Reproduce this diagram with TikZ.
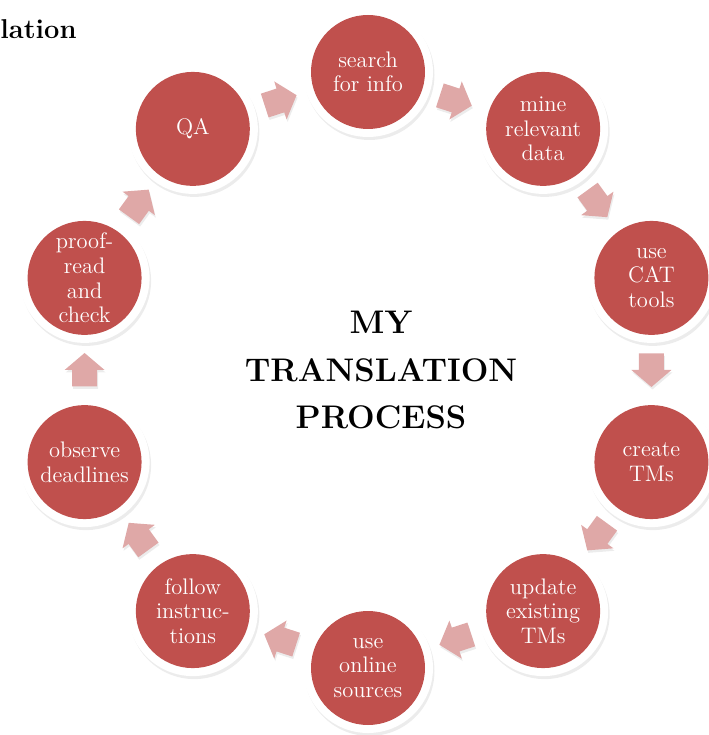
\documentclass[tikz,border=0pt]{standalone}
\usetikzlibrary{calc,shadows}

\definecolor{stagered}{RGB}{192,80,77}
\definecolor{arrowpink}{RGB}{223,168,167}

\tikzset{
  stage/.style={circle, fill=white, minimum size=2.6cm, inner sep=0pt,
    align=center, text=white, font=\fontsize{12.8}{14}\selectfont,
    drop shadow={shadow xshift=0.03cm, shadow yshift=-0.06cm, opacity=0.15},
    path picture={\fill[stagered] (path picture bounding box.center) circle (1.14cm);}},
  cyclearrow/.pic={
    \fill[arrowpink, drop shadow={shadow xshift=0.02cm, shadow yshift=-0.05cm, opacity=0.15}]
      (-0.33,-0.25) -- (0,-0.25) -- (0,-0.40) -- (0.34,0) -- (0,0.40)
      -- (0,0.25) -- (-0.33,0.25) -- cycle;}
}

\begin{document}
\begin{tikzpicture}
    \useasboundingbox (-7.36,-7.30) rectangle (6.80,7.40);

    \node[anchor=base west, inner sep=0pt, font=\fontsize{15.5}{18}\selectfont\bfseries]
      (title) at (-7.36,6.62) {lation};
    \node[align=center, font=\fontsize{18.6}{27.3}\selectfont\bfseries]
      (centre) at (0.26,0) {MY\\TRANSLATION\\PROCESS};

    \node[stage]     (p1)  at (90:5.96)     {search\\for info};
    \node[stage]     (p2)  at (54:5.96)     {mine\\relevant\\data};
    \node[stage]     (p3)  at (18:5.96)     {use\\CAT\\tools};
    \node[stage]     (p4)  at (-18:5.96)    {create\\TMs};
    \node[stage]     (p5)  at (-54:5.96)    {update\\existing\\TMs};
    \node[stage]     (p6)  at (-90:5.96)    {use\\online\\sources};
    \node[stage]     (p7)  at (-126:5.96)   {follow\\instruc-\\tions};
    \node[stage]     (p8)  at (-162:5.96)   {observe\\deadlines};
    \node[stage]     (p9)  at (162:5.96)    {proof-\\read\\and\\check};
    \node[stage]     (p10) at (126:5.96)    {QA};

    \pic[rotate=-18]  at ($(p1)!0.5!(p2)$)   {cyclearrow};
    \pic[rotate=-54]  at ($(p2)!0.5!(p3)$)   {cyclearrow};
    \pic[rotate=-90]  at ($(p3)!0.5!(p4)$)   {cyclearrow};
    \pic[rotate=-126] at ($(p4)!0.5!(p5)$)   {cyclearrow};
    \pic[rotate=-162] at ($(p5)!0.5!(p6)$)   {cyclearrow};
    \pic[rotate=162]  at ($(p6)!0.5!(p7)$)   {cyclearrow};
    \pic[rotate=126]  at ($(p7)!0.5!(p8)$)   {cyclearrow};
    \pic[rotate=90]   at ($(p8)!0.5!(p9)$)   {cyclearrow};
    \pic[rotate=54]   at ($(p9)!0.5!(p10)$)  {cyclearrow};
    \pic[rotate=18]   at ($(p10)!0.5!(p1)$)  {cyclearrow};
\end{tikzpicture}
\end{document}
